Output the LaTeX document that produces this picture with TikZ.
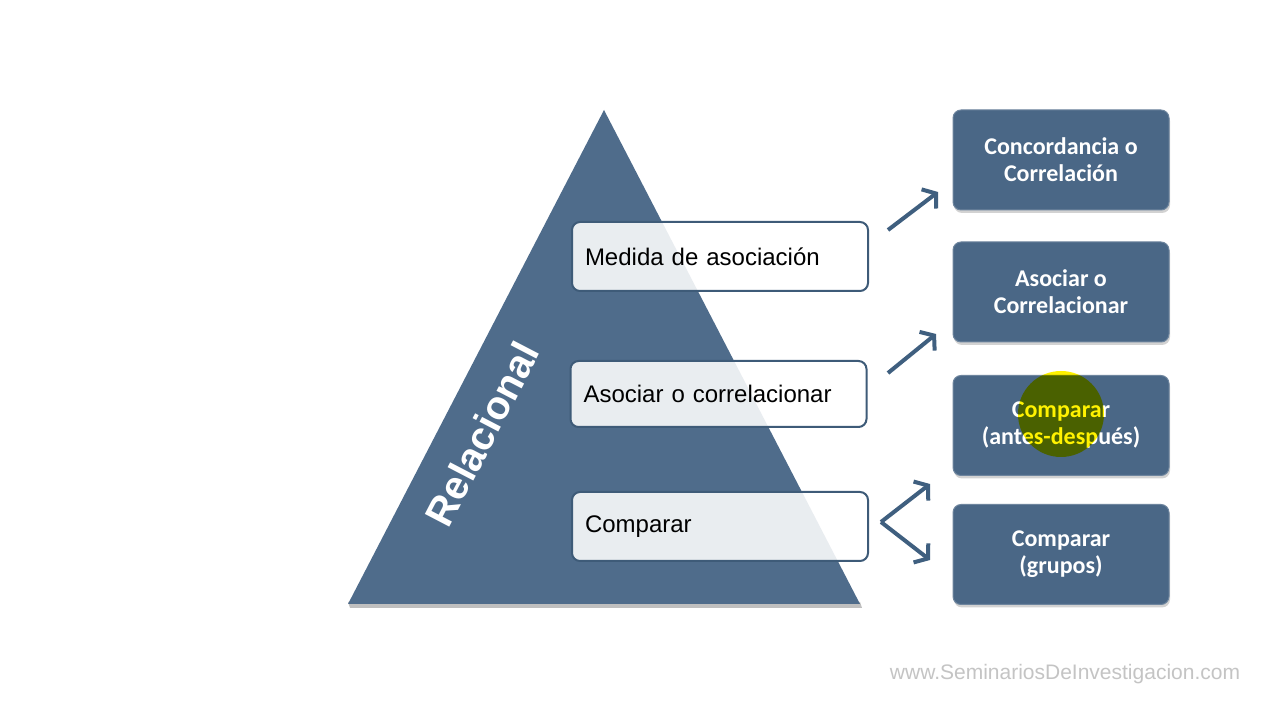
\documentclass[tikz,border=0pt]{standalone}
\usepackage{fontspec}
\setmainfont{Liberation Sans}
\newfontfamily\calib{Carlito}
\usepackage{tikz}
\usetikzlibrary{arrows.meta,shadows}

\definecolor{pyrblue}{HTML}{4F6C8B}
\definecolor{boxblue}{HTML}{4A6786}
\definecolor{edgeblue}{HTML}{3E5B78}
\definecolor{arrblue}{HTML}{3F5F7F}
\definecolor{webgrey}{HTML}{C4C4C4}

\begin{document}
\begin{tikzpicture}[x=1pt,y=1pt,
		lvl/.style = {draw=edgeblue, line width=2pt, rounded corners=8pt,
			fill=white, fill opacity=0.88, text opacity=1,
			text width=270pt, inner xsep=13pt, align=left,
			minimum height=#1, font=\fontsize{24}{28}\selectfont},
		kind/.style = {draw=boxblue!80!white, line width=1pt, rounded corners=8pt,
			fill=boxblue, text=white, minimum width=216pt, minimum height=100pt,
			align=center, font=\calib\bfseries\fontsize{24}{27}\selectfont,
			drop shadow={shadow xshift=1pt, shadow yshift=-3pt, opacity=0.35}},
		arr/.style = {draw=arrblue, line width=4pt,
			-{Straight Barb[length=9pt,width=24pt]}}
		]
		\useasboundingbox (0,0) rectangle (1280,720);
		\fill[white] (0,0) rectangle (1280,720);
		% pyramid
		\fill[black, opacity=0.25] (350,112) -- (862,112) -- (860,118) -- (348,118) -- cycle;
		\fill[pyrblue] (604,610) -- (348,116) -- (860,116) -- cycle;
		\node (rel) [rotate=62.5, text=white, font=\bfseries\fontsize{40}{40}\selectfont]
			at (482,286) {Relacional};
		% levels on the pyramid
		\node (med) [lvl=69pt] at (720,463.5) {Medida de asociación};
		\node (aso) [lvl=66pt] at (718.5,326) {Asociar o correlacionar};
		\node (com) [lvl=69pt] at (720,193.5) {Comparar};
		% kinds of study
		\node (conc) [kind] at (1061,560) {Concordancia o\\Correlación};
		\node (asoc) [kind] at (1061,428) {Asociar o\\Correlacionar};
		\node (cmpt) [kind] at (1061,294.5) {Comparar\\(antes-después)};
		\node (cmpg) [kind] at (1061,165.5) {Comparar\\(grupos)};
		% pointer highlight
		\begin{scope}[blend mode=multiply]
			\fill[yellow] (1061,306) circle (43);
		\end{scope}
		% arrows
		\coordinate (a1s) at (888,490);
		\coordinate (a1e) at (938,528);
		\coordinate (a2s) at (888,347);
		\coordinate (a2e) at (936,386);
		\coordinate (a3s) at (881,198);
		\coordinate (a3e) at (930,236);
		\coordinate (a4e) at (930,160);
		\foreach \from/\to in {a1s/a1e, a2s/a2e, a3s/a3e, a3s/a4e}
		\draw[arr] (\from) -- (\to);
		\node (web) [text=webgrey, font=\fontsize{21}{21}\selectfont] at (1065,46)
			{www.SeminariosDeInvestigacion.com};
	\end{tikzpicture}
\end{document}
